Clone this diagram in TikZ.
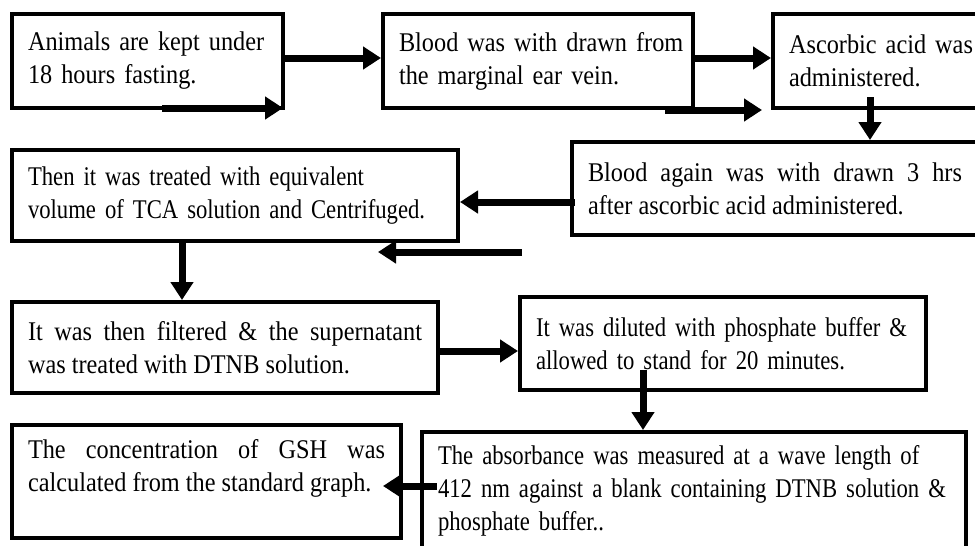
\documentclass[tikz,border=0pt]{standalone}
\usepackage{fontspec}
\setmainfont{Liberation Serif}[FakeStretch=0.9]
\newfontfamily\tightserif{Liberation Serif}[FakeStretch=0.84]
\usetikzlibrary{arrows.meta}

\begin{document}
\begin{tikzpicture}[x=1pt,y=-1pt,
  box/.style={draw,line width=4pt,inner xsep=16pt,inner ysep=0pt,
    font=\fontsize{27}{33}\selectfont,align=left},
  tight/.style={font=\tightserif\fontsize{27}{33}\selectfont},
  flow/.style={line width=7pt,-{Triangle[length=18pt,width=22pt]}}]
\useasboundingbox (0,0) rectangle (975,546);
\clip (0,0) rectangle (975,546);
\node[box,minimum width=271pt,minimum height=94pt,text width=239pt] (Fast) at (147.5,61)
  {\mbox{Animals are kept under}\\18 hours fasting.};
\node[box,minimum width=310pt,minimum height=94pt,text width=278pt] (Draw) at (538,61)
  {\mbox{Blood was with drawn from}\\the marginal ear vein.};
\node[box,minimum width=225pt,minimum height=94pt,text width=193pt] (Asc) at (885.5,61)
  {\mbox{Ascorbic acid was}\\administered.};
\node[box,minimum width=406pt,minimum height=93pt,text width=374pt,align=justify] (Redraw) at (775,188.5)
  {Blood again was with drawn 3 hrs\linebreak after ascorbic acid administered.};
\node[box,tight,minimum width=446pt,minimum height=91pt,text width=414pt] (TCA) at (235,195.5)
  {\mbox{Then it was treated with equivalent}\\\mbox{volume of TCA solution and Centrifuged.}};
\node[box,minimum width=426pt,minimum height=91pt,text width=394pt,align=justify] (Filt) at (225,347.5)
  {It was then filtered \& the supernatant\linebreak was treated with DTNB solution.};
\node[box,tight,minimum width=406pt,minimum height=93pt,text width=374pt] (Dil) at (723,343.5)
  {\mbox{It was diluted with phosphate buffer \&}\\\mbox{allowed to stand for 20 minutes.}};
\node[box,minimum width=389pt,minimum height=113pt,text width=357pt,align=justify] (GSH) at (206.5,481.5)
  {The concentration of GSH was\linebreak calculated from the standard graph.\\\mbox{}};
\node[box,tight,minimum width=544pt,minimum height=144pt,text width=512pt] (Abs) at (694,504)
  {\mbox{The absorbance was measured at a wave length of}\\
   \mbox{412 nm against a blank containing DTNB solution \&}\\
   phosphate buffer..\\\mbox{}};
% main flow
\draw[flow] ([yshift=3pt]Fast.east) -- ([yshift=3pt]Draw.west);
\draw[flow] ([yshift=3pt]Draw.east) -- ([yshift=3pt]Asc.west);
\draw[flow] ([xshift=-15.5pt,yshift=13pt]Asc.south) -- ([xshift=-15.5pt]Asc.south |- Redraw.north);
\draw[flow] ([xshift=5pt,yshift=-13.5pt]Redraw.west) -- ([yshift=-13.5pt]Redraw.west -| TCA.east);
\draw[flow] ([xshift=-53pt]TCA.south) -- ([xshift=-53pt]TCA.south |- Filt.north);
\draw[flow] ([yshift=-3.5pt]Filt.east) -- ([yshift=-3.5pt]Filt.east -| Dil.west);
\draw[flow] ([xshift=-80pt,yshift=22pt]Dil.south) -- ([xshift=-80pt]Dil.south |- Abs.north);
\coordinate (t98) at ([xshift=17pt,yshift=18pt]Abs.west);
\draw[flow] (t98) -- ([xshift=-20pt]t98 -| GSH.east);
% loose arrows
\coordinate (s1a) at (162,108);
\coordinate (s1b) at (283,108);
\draw[flow] (s1a) -- (s1b);
\coordinate (s2a) at (665,110);
\coordinate (s2b) at (762,110);
\draw[flow] (s2a) -- (s2b);
\coordinate (s3a) at (522,252);
\coordinate (s3b) at (378,252);
\draw[flow] (s3a) -- (s3b);
\end{tikzpicture}
\end{document}
